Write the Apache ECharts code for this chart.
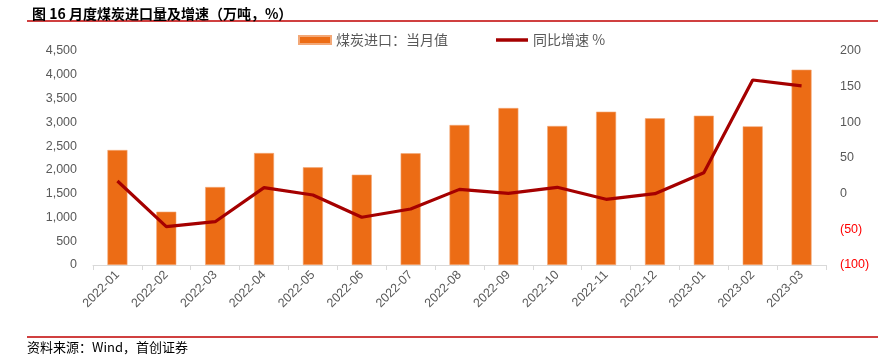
<!DOCTYPE html>
<html>
<head>
<meta charset="utf-8">
<script src="https://cdn.jsdelivr.net/npm/echarts@6/dist/echarts.min.js"></script>
<style>
html,body{margin:0;padding:0;background:#fff;}
#c{width:878px;height:357px;}
</style>
</head>
<body>
<div id="c"></div>
<script>
const categories = ['2022-01','2022-02','2022-03','2022-04','2022-05','2022-06','2022-07','2022-08','2022-09','2022-10','2022-11','2022-12','2023-01','2023-02','2023-03'];
const importValues = [2418, 1121, 1640, 2355, 2054, 1899, 2349, 2944, 3301, 2923, 3224, 3085, 3140, 2916, 4107];
const yoyValues = [17.8, -46.3, -39.3, 8.4, -1.9, -33, -21.5, 6, 0.5, 8.9, -7.9, 0, 29.4, 159.3, 151];
const leftTicks = [0, 500, 1000, 1500, 2000, 2500, 3000, 3500, 4000, 4500];
const rightTicks = [-100, -50, 0, 50, 100, 150, 200];

const chart = echarts.init(document.getElementById('c'));
const labelFont = 'Liberation Sans, Arial, sans-serif';
const grey = '#595959';
chart.setOption({
  animation: false,
  backgroundColor: '#fff',
  title: {
    text: '图 16 月度煤炭进口量及增速（万吨，%）',
    left: 27, top: 2,
    textStyle: {fontFamily: 'Noto Sans CJK SC', fontSize: 14, fontWeight: 'bold', color: '#000'}
  },
  graphic: [
    {type: 'line', shape: {x1: 27, y1: 21, x2: 878, y2: 21}, style: {stroke: '#C00000', lineWidth: 1.5}},
    {type: 'line', shape: {x1: 27, y1: 337, x2: 878, y2: 337}, style: {stroke: '#C00000', lineWidth: 1.5}},
    {type: 'text', left: 27, top: 341, style: {text: '资料来源：Wind，首创证券', fontFamily: 'Noto Sans CJK SC', fontSize: 13, fill: '#000'}}
  ],
  legend: {
    top: 33, left: 298, padding: 0,
    itemGap: 48,
    itemWidth: 32, itemHeight: 8,
    textStyle: {fontFamily: 'Noto Sans CJK SC', fontSize: 14, color: grey},
    data: [
      {name: '煤炭进口：当月值', icon: 'rect'},
      {name: '同比增速 %', icon: 'path://M0,0L32,0L32,3.5L0,3.5Z', itemStyle: {color: '#A50000'}}
    ]
  },
  grid: {left: 93, right: 52, top: 51, bottom: 92},
  xAxis: {
    type: 'category',
    data: categories,
    axisLine: {lineStyle: {color: '#D9D9D9'}},
    axisTick: {show: true, alignWithLabel: false, lineStyle: {color: '#D9D9D9'}},
    axisLabel: {rotate: 45, interval: 0, color: grey, fontFamily: labelFont, fontSize: 12.5, margin: 8}
  },
  yAxis: [
    {
      type: 'value', min: 0, max: 4500, interval: 500,
      splitLine: {show: false},
      axisLine: {show: false}, axisTick: {show: false},
      axisLabel: {
        color: grey, fontFamily: labelFont, fontSize: 12.5, margin: 16,
        formatter: v => v.toLocaleString('en-US')
      }
    },
    {
      type: 'value', min: -100, max: 200, interval: 50,
      splitLine: {show: false},
      axisLine: {show: false}, axisTick: {show: false},
      axisLabel: {
        fontFamily: labelFont, fontSize: 12.5, margin: 14,
        formatter: v => v < 0 ? '{neg|(' + Math.abs(v) + ')}' : '{pos|' + v + '}',
        rich: {
          neg: {color: '#FF0000', fontFamily: labelFont, fontSize: 12.5},
          pos: {color: grey, fontFamily: labelFont, fontSize: 12.5}
        }
      }
    }
  ],
  series: [
    {
      name: '煤炭进口：当月值',
      type: 'bar',
      data: importValues,
      barWidth: 20,
      itemStyle: {color: '#EC6C15', borderColor: '#F3A877', borderWidth: 0.6},
      yAxisIndex: 0
    },
    {
      name: '同比增速 %',
      type: 'line',
      data: yoyValues,
      yAxisIndex: 1,
      symbol: 'none',
      lineStyle: {color: '#A50000', width: 3.2},
      itemStyle: {color: '#A50000'}
    }
  ]
});
</script>
</body>
</html>
